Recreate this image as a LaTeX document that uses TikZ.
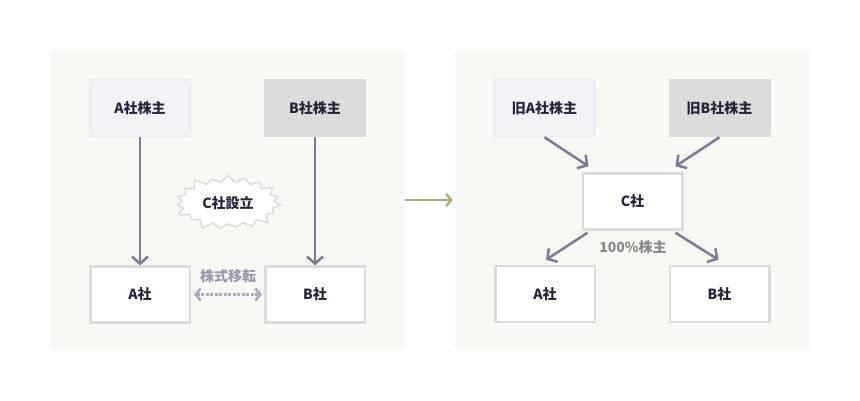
\documentclass[tikz,border=0pt]{standalone}
\usepackage{fontspec}
\setmainfont{Noto Sans CJK JP}
\usetikzlibrary{arrows.meta,shapes.symbols}
\definecolor{panelbg}{HTML}{F9F8F5}
\definecolor{boxline}{HTML}{DCDCDC}
\definecolor{holderA}{HTML}{F2F2F7}
\definecolor{holderB}{HTML}{DCDCDC}
\definecolor{ink}{HTML}{25253A}
\definecolor{arrowc}{HTML}{7B7B96}
\definecolor{softarrow}{HTML}{A9A9C2}
\definecolor{goldc}{HTML}{B8A878}
\definecolor{labelc}{HTML}{8A8A8A}
\begin{document}
\begin{tikzpicture}[x=1pt,y=1pt,
  every node/.style={font=\fontsize{14}{16}\selectfont\bfseries,text=ink},
  panel/.style={fill=panelbg,minimum width=355pt,minimum height=300pt,inner sep=0pt},
  company/.style={draw=boxline,line width=2.5pt,fill=white,minimum width=99.5pt,minimum height=56pt},
  holder/.style={company,fill=#1,draw=#1!80!boxline},
  flow/.style={draw=arrowc,line width=2.5pt,-{Straight Barb[length=7pt,width=16pt]}}]
  \useasboundingbox (0,0) rectangle (860,400);
  \node[panel] (leftpanel) at (227.5,200) {};
  \node[panel] (rightpanel) at (632.5,200) {};

  % before
  \node[holder=holderA] (aholder) at (140,292) {A社株主};
  \node[holder=holderB] (bholder) at (315,292) {B社株主};
  \node[company] (aco) at (140,105.5) {A社};
  \node[company] (bco) at (315,105.5) {B社};
  \node[starburst,starburst points=19,starburst point height=9pt,draw=boxline,line width=1.5pt,fill=white,
    minimum width=110pt,minimum height=60pt,inner sep=0pt] (burst) at (228,197) {C社設立};
  \node[text=softarrow!90!black] (transfer) at (228,124) {株式移転};

  \draw[flow] (aholder) -- (aco);
  \draw[flow] (bholder) -- (bco);
  \draw[softarrow,line width=2.5pt,dash pattern=on 3pt off 1.5pt,
    {Straight Barb[length=5pt,width=12pt]}-{Straight Barb[length=5pt,width=12pt]},
    shorten <=3pt,shorten >=2pt] (aco) -- (bco);

  \draw[goldc,line width=2.5pt,-{Straight Barb[length=5pt,width=12pt]},shorten >=2pt] (leftpanel.east) -- (rightpanel.west);

  % after
  \node[holder=holderA] (oldaholder) at (544.5,292) {旧A社株主};
  \node[holder=holderB] (oldbholder) at (719.5,292) {旧B社株主};
  \node[company] (cco) at (632.5,198.5) {C社};
  \node[company] (newaco) at (545,106) {A社};
  \node[company] (newbco) at (719.5,106) {B社};
  \node[text=labelc] (fullshare) at (633,153) {100\%株主};

  \draw[flow] (oldaholder.south) -- ([shift={(7,6)}]cco.north west);
  \draw[flow] (oldbholder.south) -- ([shift={(-8,6)}]cco.north east);
  \draw[flow] ([shift={(6,-2)}]cco.south west) -- ([shift={(1,5)}]newaco.north);
  \draw[flow] ([shift={(-8,-2)}]cco.south east) -- ([shift={(-1,5)}]newbco.north);
\end{tikzpicture}
\end{document}
